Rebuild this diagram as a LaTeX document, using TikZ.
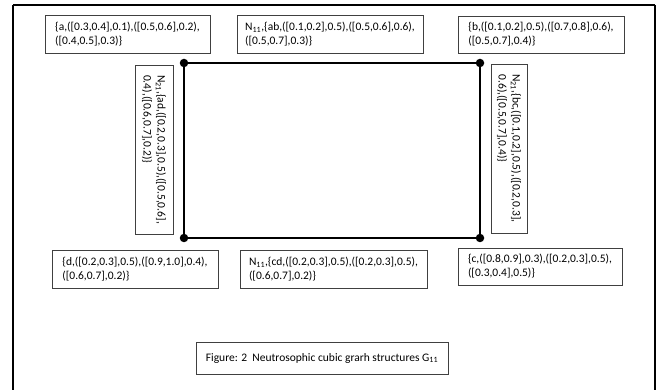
\documentclass[tikz,border=0pt]{standalone}
\usepackage{fontspec}
\setmainfont{Carlito}
\begin{document}
\begin{tikzpicture}[x=1pt,y=-1pt,
  lbl/.style={draw=black!75, line width=0.8pt, fill=white, align=left, inner xsep=2pt, inner ysep=2pt,
    font=\fontsize{11.5}{14}\selectfont, anchor=center},
  vtx/.style={circle, fill=black, inner sep=0pt, minimum size=8.5pt},
  edge/.style={line width=1.8pt, black}]
\useasboundingbox (0,0) rectangle (659,390);
% outer frame
\coordinate (f1) at (13,390);
\coordinate (f2) at (13,5);
\coordinate (f3) at (655,5);
\coordinate (f4) at (655,390);
\draw[line width=2.6pt] (f1) -- (f2);
\draw[line width=1.5pt] (f2) -- (f3);
\draw[line width=1.2pt] (f3) -- (f4);
% vertices
\node[vtx] (a) at (184,63) {};
\node[vtx] (b) at (480,63) {};
\node[vtx] (c) at (480,238) {};
\node[vtx] (d) at (184,238) {};
\draw[edge] (a.center) -- (b.center) -- (c.center) -- (d.center) -- cycle;
% labels
\node[lbl, minimum width=165pt, minimum height=38pt] (la) at (127.5,34)
  {\{a,([0.3,0.4],0.1),([0.5,0.6],0.2),\\([0.4,0.5],0.3)\}};
\node[lbl, minimum width=186pt, minimum height=38pt] (lab) at (330,34)
  {N\textsubscript{11},\{ab,([0.1,0.2],0.5),([0.5,0.6],0.6),\\([0.5,0.7],0.3)\}};
\node[lbl, minimum width=166pt, minimum height=37pt] (lb) at (541,34.5)
  {\{b,([0.1,0.2],0.5),([0.7,0.8],0.6),\\([0.5,0.7],0.4)\}};
\node[lbl, rotate=-90, minimum width=169pt, minimum height=38pt] (lad) at (154,149.5)
  {N\textsubscript{21},\{ad,([0.2,0.3],0.5),([0.5,0.6],\\0.4),([0.6,0.7],0.2)\}};
\node[lbl, rotate=-90, minimum width=169pt, minimum height=36pt] (lbc) at (509,148.5)
  {N\textsubscript{21},\{bc,([0.1,0.2],0.5),([0.2,0.3],\\0.6),([0.5,0.7],0.4)\}};
\node[lbl, minimum width=166pt, minimum height=38pt] (ld) at (135,269)
  {\{d,([0.2,0.3],0.5),([0.9,1.0],0.4),\\([0.6,0.7],0.2)\}};
\node[lbl, minimum width=187pt, minimum height=38pt] (lcd) at (333.5,269)
  {N\textsubscript{11},\{cd,([0.2,0.3],0.5),([0.2,0.3],0.5),\\([0.6,0.7],0.2)\}};
\node[lbl, minimum width=164pt, minimum height=37pt] (lc) at (540,266.5)
  {\{c,([0.8,0.9],0.3),([0.2,0.3],0.5),\\([0.3,0.4],0.5)\}};
\node[lbl, minimum width=252pt, minimum height=32pt] (cap) at (322,358)
  {Figure: 2\ \ Neutrosophic cubic grarh structures G\textsubscript{11}};
\end{tikzpicture}
\end{document}
